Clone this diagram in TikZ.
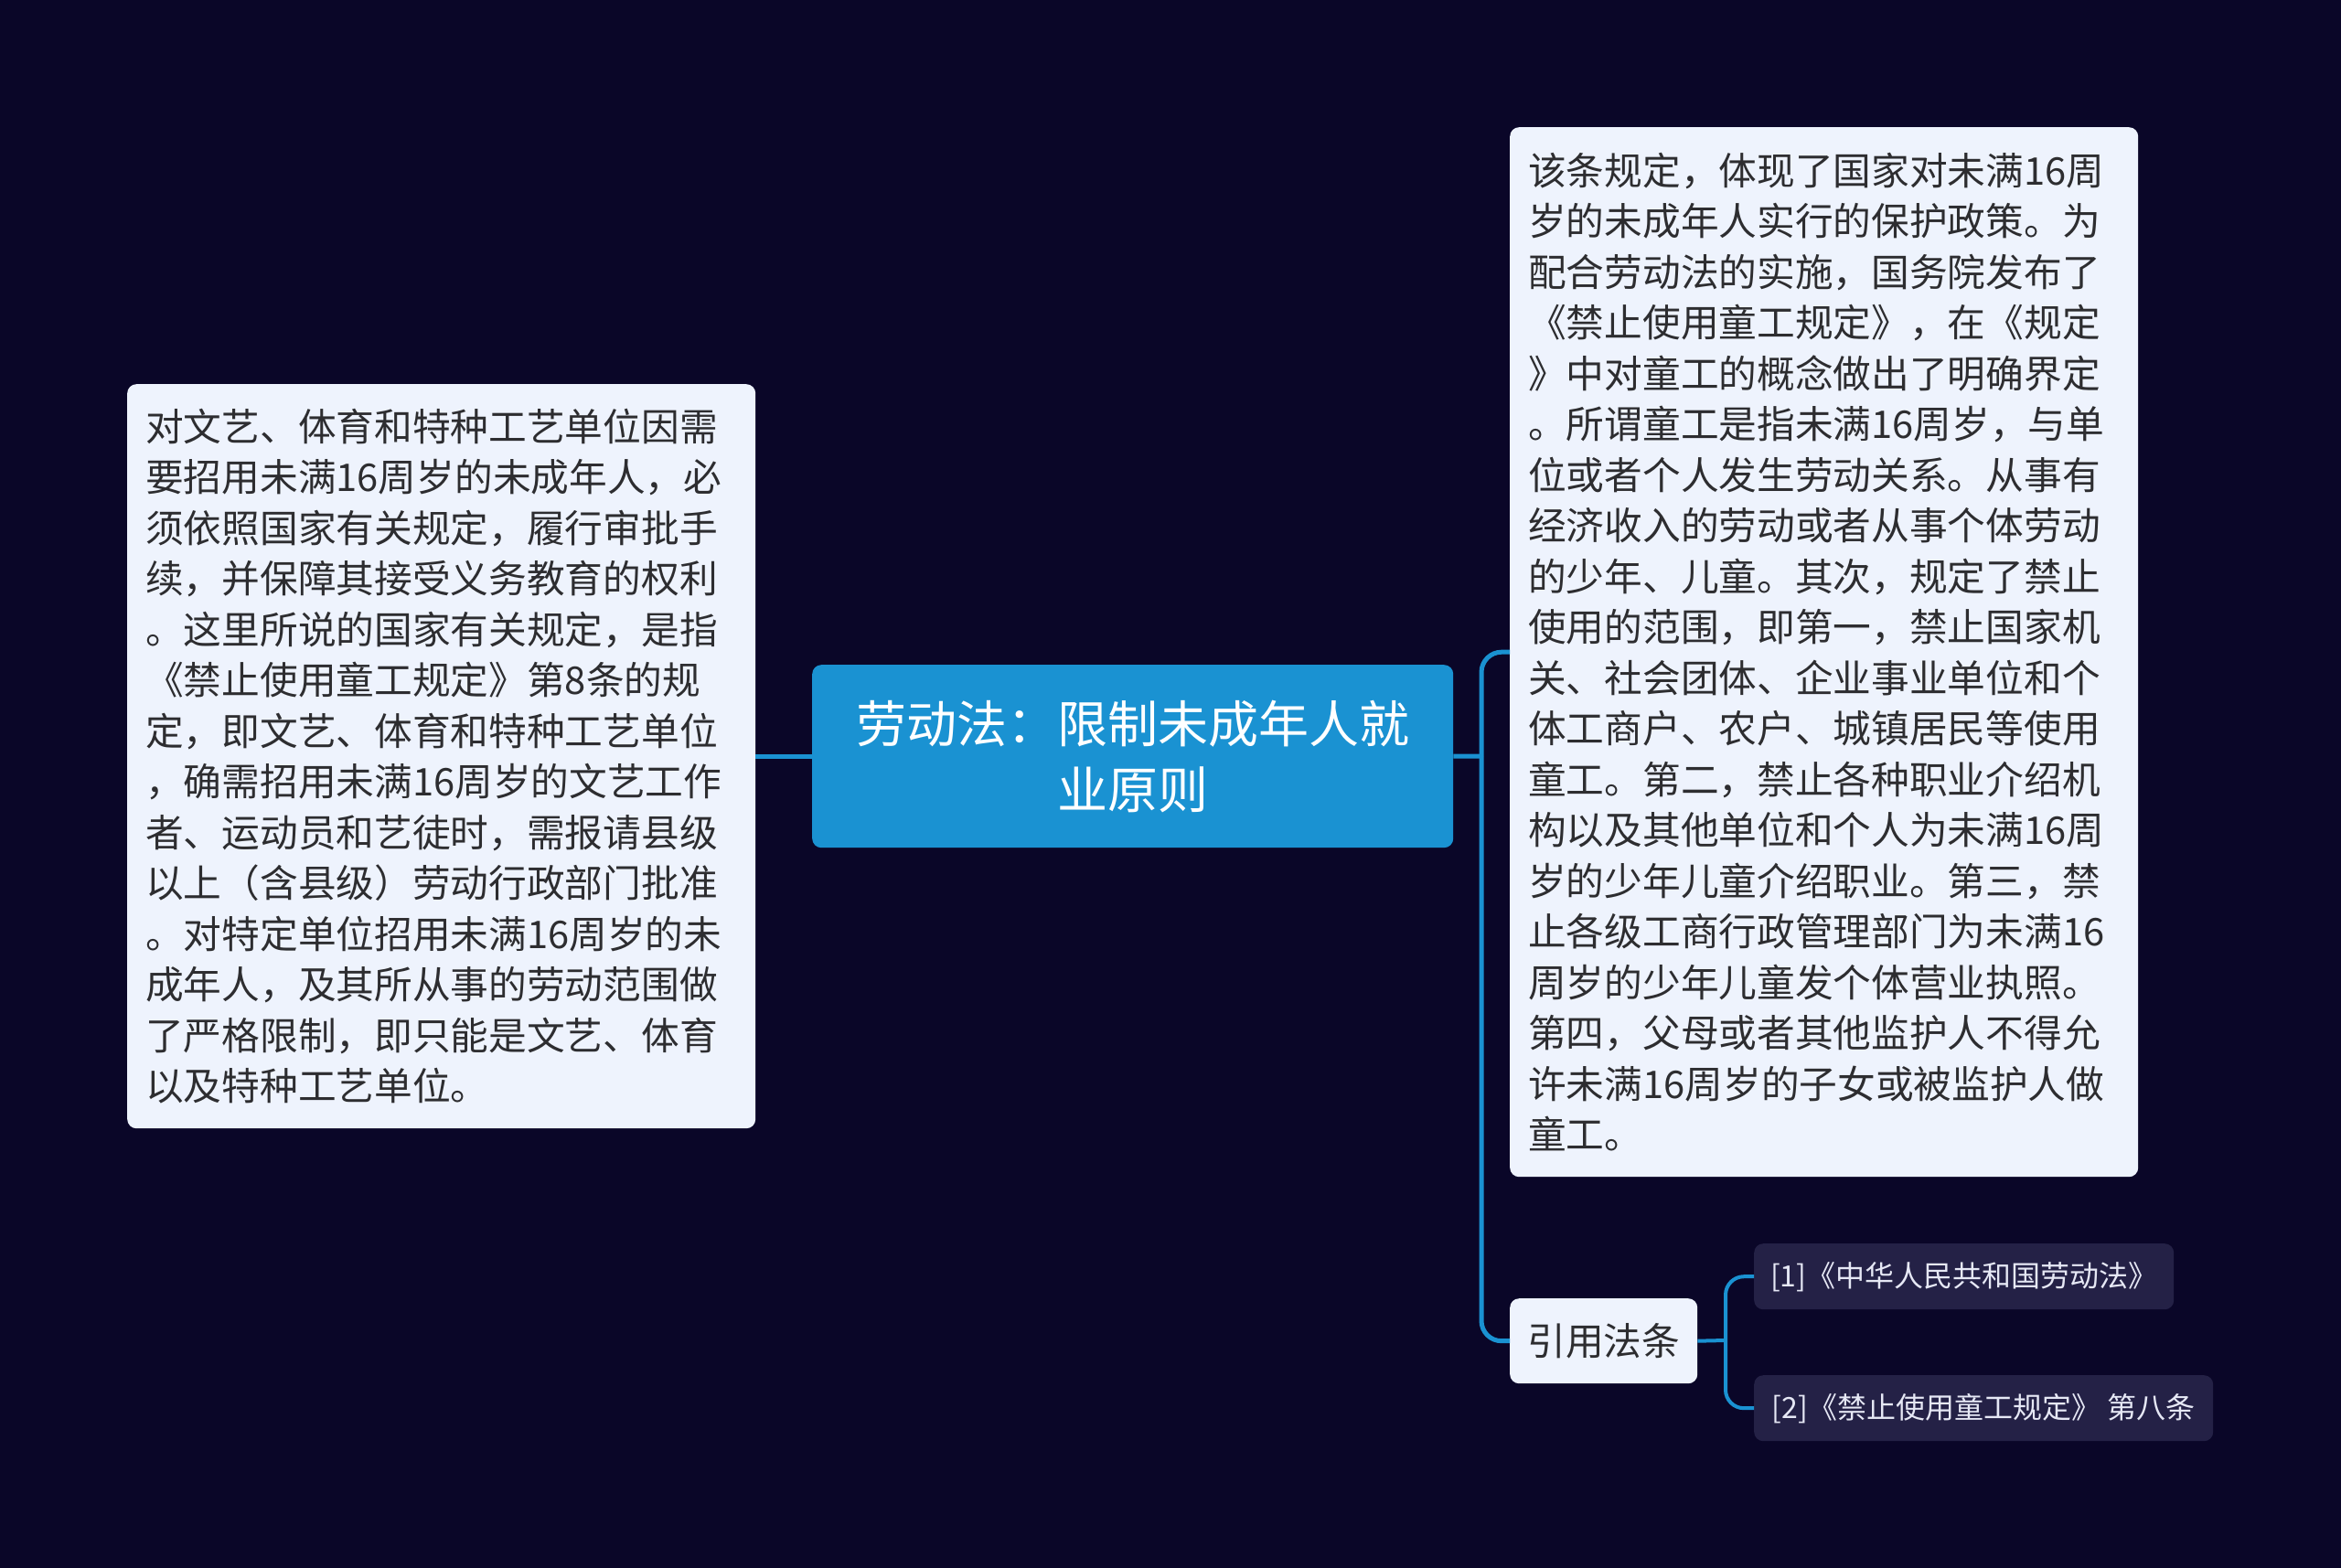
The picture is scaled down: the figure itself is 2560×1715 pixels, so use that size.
\documentclass[tikz,border=0pt]{standalone}
\usepackage{fontspec}
\setmainfont{Noto Sans CJK SC}
\definecolor{bg}{RGB}{10,6,40}
\definecolor{mainblue}{RGB}{26,146,210}
\definecolor{lightbox}{RGB}{238,243,253}
\definecolor{darktext}{RGB}{45,45,48}
\definecolor{reffill}{RGB}{36,33,70}
\definecolor{reftext}{RGB}{230,232,245}
\begin{document}
\begin{tikzpicture}[x=1pt,y=-1pt,
  conn/.style={draw=mainblue,line width=5pt},
  subconn/.style={draw=mainblue,line width=4pt},
  textbox/.style={fill=lightbox,rounded corners=10pt,anchor=north west,text=darktext,
    font=\fontsize{41.7}{55.5}\selectfont,align=left,text width=647pt,inner xsep=20pt,inner ysep=0pt},
  centerbox/.style={fill=mainblue,rounded corners=10pt,anchor=north west,text=white,
    font=\fontsize{55}{72}\selectfont,align=center,minimum width=701pt,minimum height=200pt,inner sep=0pt},
  citebox/.style={fill=lightbox,rounded corners=10pt,anchor=north west,text=darktext,
    font=\fontsize{41.7}{50}\selectfont,minimum width=205pt,minimum height=93pt,inner sep=0pt},
  refbox/.style={fill=reffill,rounded corners=10pt,anchor=north west,text=reftext,
    font=\fontsize{32}{40}\selectfont,minimum height=72pt,inner sep=0pt}
]
\fill[bg] (0,0) rectangle (2560,1715);
\useasboundingbox (0,0) rectangle (2560,1715);

\node[centerbox] (c) at (888,727) {劳动法：限制未成年人就\\业原则};

\node[textbox,minimum height=814pt] (l) at (139,420) {对文艺、体育和特种工艺单位因需\\要招用未满16周岁的未成年人，必\\须依照国家有关规定，履行审批手\\续，并保障其接受义务教育的权利\\。这里所说的国家有关规定，是指\\《禁止使用童工规定》第8条的规\\定，即文艺、体育和特种工艺单位\\，确需招用未满16周岁的文艺工作\\者、运动员和艺徒时，需报请县级\\以上（含县级）劳动行政部门批准\\。对特定单位招用未满16周岁的未\\成年人，及其所从事的劳动范围做\\了严格限制，即只能是文艺、体育\\以及特种工艺单位。};

\node[textbox,minimum height=1148pt] (r) at (1651,139) {该条规定，体现了国家对未满16周\\岁的未成年人实行的保护政策。为\\配合劳动法的实施，国务院发布了\\《禁止使用童工规定》，在《规定\\》中对童工的概念做出了明确界定\\。所谓童工是指未满16周岁，与单\\位或者个人发生劳动关系。从事有\\经济收入的劳动或者从事个体劳动\\的少年、儿童。其次，规定了禁止\\使用的范围，即第一，禁止国家机\\关、社会团体、企业事业单位和个\\体工商户、农户、城镇居民等使用\\童工。第二，禁止各种职业介绍机\\构以及其他单位和个人为未满16周\\岁的少年儿童介绍职业。第三，禁\\止各级工商行政管理部门为未满16\\周岁的少年儿童发个体营业执照。\\第四，父母或者其他监护人不得允\\许未满16周岁的子女或被监护人做\\童工。};

\node[citebox] (cite) at (1651,1420) {引用法条};
\node[refbox,minimum width=459pt] (ref1) at (1918,1360) {[1]《中华人民共和国劳动法》};
\node[refbox,minimum width=502pt] (ref2) at (1918,1504) {[2]《禁止使用童工规定》 第八条};

\coordinate (j1) at (1620,827);
\coordinate (j2) at (1887,1466);

\draw[conn] (c.west) -- (l.east);
\draw[conn] (c.east) -- (j1);
\draw[conn,rounded corners=22pt] (j1) |- (r.west);
\draw[conn,rounded corners=22pt] (j1) |- (cite.west);
\draw[subconn] (cite.east) -- (j2);
\draw[subconn,rounded corners=20pt] (j2) |- (ref1.west);
\draw[subconn,rounded corners=20pt] (j2) |- (ref2.west);
\end{tikzpicture}
\end{document}
